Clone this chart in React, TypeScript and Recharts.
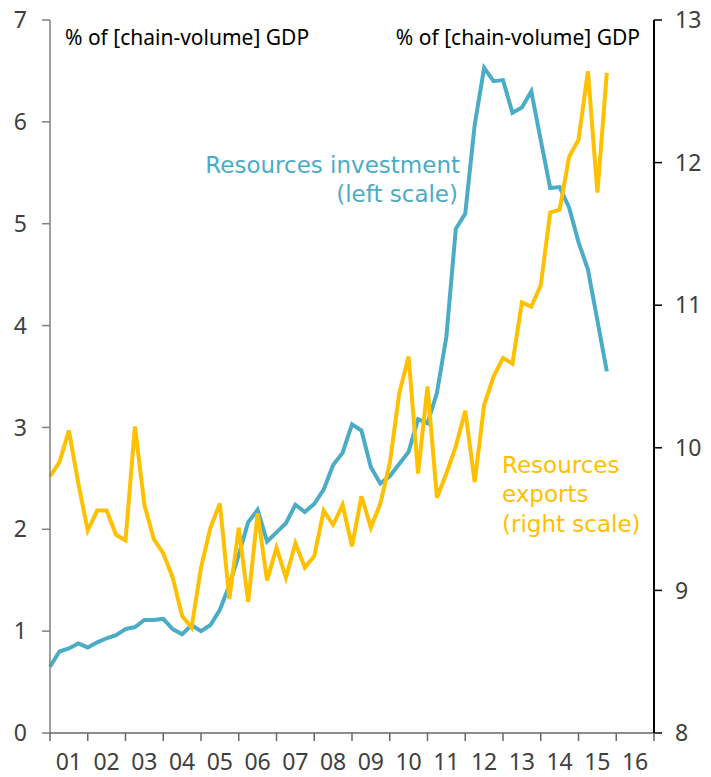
import { LineChart, Line, XAxis, YAxis } from 'recharts'

// quarterly, Q1 2001 .. Q4 2015
const investment = [
  0.65, 0.8, 0.83, 0.88, 0.84, 0.89, 0.93, 0.96, 1.02, 1.04, 1.11, 1.11, 1.12, 1.02, 0.97,
  1.06, 1.0, 1.06, 1.21, 1.45, 1.75, 2.07, 2.19, 1.88, 1.97, 2.06, 2.24, 2.17, 2.25, 2.39,
  2.63, 2.75, 3.03, 2.97, 2.61, 2.45, 2.52, 2.64, 2.76, 3.08, 3.04, 3.34, 3.89, 4.95, 5.1,
  5.97, 6.53, 6.4, 6.41, 6.09, 6.14, 6.3, 5.82, 5.35, 5.36, 5.16, 4.82, 4.55, 4.05, 3.55
]

const exportsShare = [
  9.8, 9.9, 10.12, 9.75, 9.42, 9.56, 9.56, 9.39, 9.35, 10.15, 9.6, 9.36, 9.26, 9.09, 8.82,
  8.74, 9.16, 9.44, 9.61, 8.94, 9.44, 8.92, 9.54, 9.07, 9.3, 9.09, 9.33, 9.16, 9.24, 9.56,
  9.46, 9.6, 9.31, 9.66, 9.44, 9.61, 9.89, 10.38, 10.64, 9.82, 10.43, 9.65, 9.82, 10.01, 10.26,
  9.76, 10.3, 10.5, 10.63, 10.59, 11.02, 10.99, 11.14, 11.65, 11.67, 12.04, 12.16, 12.64, 11.79, 12.63
]

const yearLabels = ['01', '02', '03', '04', '05', '06', '07', '08', '09', '10', '11', '12', '13', '14', '15', '16']
const leftTicks = [0, 1, 2, 3, 4, 5, 6, 7]
const rightTicks = [8, 9, 10, 11, 12, 13]

const data = investment.map((v, i) => ({ q: i, investment: v, exports: exportsShare[i] }))

// year boundaries get a tick mark, mid-years get the label
const xTicks: number[] = []
for (let i = 0; i <= yearLabels.length * 4; i += 2) xTicks.push(i)

const BLUE = '#4BACC6'
const GOLD = '#FFC000'
const FONT = '"Noto Sans", sans-serif'
const NOTE_FONT = '"DejaVu Sans", sans-serif'

function YearTick(props: any) {
  const { x, y, payload } = props
  const v = payload.value
  if (v % 4 === 0) {
    return <line x1={x} x2={x} y1={y} y2={y + 8} stroke="#666" strokeWidth={1.5} />
  }
  return (
    <text x={x} y={y + 37} textAnchor="middle" fill="#404040" fontSize={23} fontFamily={FONT}>
      {yearLabels[(v - 2) / 4]}
    </text>
  )
}

export default function App() {
  return (
    <div style={{ position: 'absolute', left: 0, top: 0, width: 711, height: 777, background: '#fff' }}>
      <LineChart width={711} height={777} data={data} margin={{ top: 20, right: 0, left: 0, bottom: 0 }}>
        <XAxis
          dataKey="q"
          type="number"
          domain={[0, 64]}
          ticks={xTicks}
          interval={0}
          tick={<YearTick />}
          tickLine={false}
          tickSize={0}
          tickMargin={0}
          height={44}
          axisLine={{ stroke: '#666', strokeWidth: 1.5 }}
        />
        <YAxis
          yAxisId="left"
          domain={[0, 7]}
          ticks={leftTicks}
          interval={0}
          width={50}
          tickSize={8}
          tickMargin={15}
          axisLine={{ stroke: '#7f7f7f', strokeWidth: 1.5 }}
          tickLine={{ stroke: '#7f7f7f', strokeWidth: 1.5 }}
          tick={{ fill: '#404040', fontSize: 23, fontFamily: FONT }}
        />
        <YAxis
          yAxisId="right"
          orientation="right"
          domain={[8, 13]}
          ticks={rightTicks}
          interval={0}
          width={57}
          tickSize={8}
          tickMargin={13}
          axisLine={{ stroke: '#000', strokeWidth: 2 }}
          tickLine={{ stroke: '#000', strokeWidth: 1.5 }}
          tick={{ fill: '#404040', fontSize: 23, fontFamily: FONT }}
        />
        <Line
          yAxisId="left"
          dataKey="investment"
          type="linear"
          stroke={BLUE}
          strokeWidth={4}
          dot={false}
          activeDot={false}
          isAnimationActive={false}
        />
        <Line
          yAxisId="right"
          dataKey="exports"
          type="linear"
          stroke={GOLD}
          strokeWidth={4}
          dot={false}
          activeDot={false}
          isAnimationActive={false}
        />
      </LineChart>
      <svg
        width={711}
        height={777}
        style={{ position: 'absolute', left: 0, top: 0, pointerEvents: 'none' }}
        fontFamily={FONT}
      >
        <text x={65} y={45} fontSize={21} fill="#000">% of [chain-volume] GDP</text>
        <text x={640} y={45} fontSize={21} fill="#000" textAnchor="end">% of [chain-volume] GDP</text>
        <g fontFamily={NOTE_FONT} fontSize={23}>
          <text x={460} y={173} fill={BLUE} textAnchor="end">Resources investment</text>
          <text x={458} y={202} fill={BLUE} textAnchor="end">(left scale)</text>
          <text x={502} y={473} fill={GOLD}>Resources</text>
          <text x={502} y={502} fill={GOLD}>exports</text>
          <text x={502} y={532} fill={GOLD}>(right scale)</text>
        </g>
      </svg>
    </div>
  )
}
